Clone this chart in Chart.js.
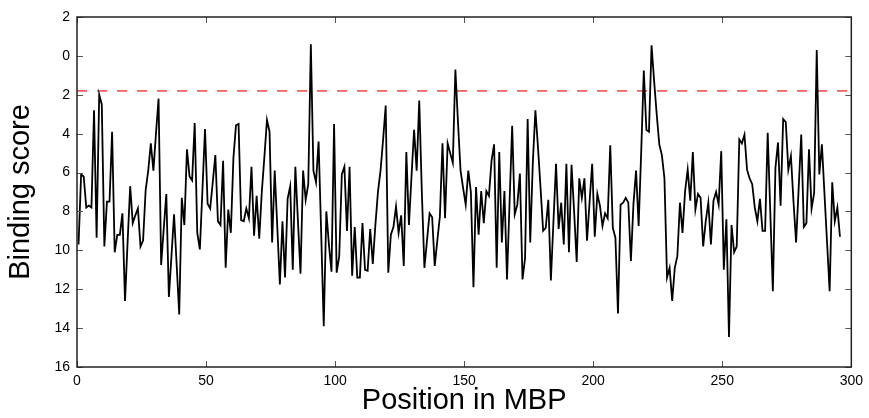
<!DOCTYPE html>
<html>
<head>
<meta charset="utf-8">
<script src="https://cdn.jsdelivr.net/npm/chart.js@4/dist/chart.umd.min.js"></script>
<style>
  html, body { margin: 0; padding: 0; background: #fff; }
  #wrap { width: 869px; height: 418px; }
</style>
</head>
<body>
<div id="wrap"><canvas id="myCanvas" width="869" height="418"></canvas></div>
<script>
// binding score per position (MBP)
const positions = [];
const scores = [
  9.7, 6.1, 6.2, 7.8, 7.7, 7.8, 2.8, 9.35, 2.0, 2.5,
  9.8, 7.5, 7.5, 3.9, 10.1, 9.2, 9.2, 8.1, 12.6, 9.6,
  6.7, 8.6, 8.2, 7.85, 9.8, 9.5, 6.9, 5.9, 4.5, 5.9,
  4.0, 2.2, 10.75, 8.9, 7.1, 12.4, 10.3, 8.15, 10.7, 13.3,
  7.3, 8.7, 4.8, 6.2, 6.4, 3.45, 9.1, 9.95, 6.9, 3.76,
  7.6, 7.85, 6.5, 5.1, 8.5, 8.7, 5.4, 10.9, 7.9, 9.1,
  5.25, 3.57, 3.5, 8.45, 8.5, 7.85, 8.35, 5.7, 9.25, 7.2,
  9.4, 7.0, 5.2, 3.3, 3.9, 9.6, 5.9, 8.8, 11.75, 8.5,
  11.4, 7.35, 6.7, 11.0, 5.7, 8.5, 11.2, 5.9, 7.4, 6.6,
  -0.6, 5.9, 6.5, 4.4, 9.1, 13.9, 8.0, 9.7, 11.1, 3.5,
  11.15, 10.3, 6.1, 5.7, 9.0, 5.7, 11.3, 8.8, 11.4, 11.4,
  8.6, 11.0, 11.05, 8.9, 10.7, 8.7, 7.0, 5.9, 4.3, 2.55,
  11.15, 9.2, 8.8, 7.75, 9.1, 8.2, 10.8, 4.95, 8.7, 6.2,
  3.8, 5.9, 2.3, 7.0, 10.9, 9.5, 8.1, 8.3, 10.8, 9.5,
  8.25, 4.5, 8.35, 4.5, 5.0, 5.5, 0.7, 3.4, 5.9, 6.8,
  7.65, 5.9, 7.0, 11.9, 6.75, 9.2, 6.95, 8.6, 6.95, 7.2,
  5.4, 4.55, 10.9, 4.95, 9.6, 6.95, 11.5, 7.5, 3.6, 8.15,
  7.65, 6.05, 11.5, 10.4, 3.25, 9.6, 5.5, 2.8, 4.7, 6.8,
  9.0, 8.85, 7.4, 11.55, 8.5, 5.55, 8.9, 7.55, 9.7, 5.55,
  10.1, 5.6, 8.0, 10.6, 6.3, 7.3, 6.3, 9.5, 7.5, 5.55,
  9.3, 7.1, 7.7, 8.75, 8.1, 8.35, 4.6, 8.85, 9.35, 13.25,
  7.65, 7.55, 7.3, 7.55, 10.55, 7.6, 5.9, 8.75, 4.9, 0.75,
  3.8, 3.9, -0.55, 1.3, 3.0, 4.55, 5.1, 6.3, 11.4, 10.9,
  12.6, 10.9, 10.3, 7.55, 9.1, 6.95, 5.85, 7.45, 4.95, 7.9,
  7.1, 7.3, 9.8, 8.5, 7.55, 9.7, 7.45, 7.0, 7.65, 4.9,
  11.0, 8.4, 14.45, 8.7, 10.1, 9.8, 4.3, 4.5, 4.05, 5.85,
  6.3, 6.6, 7.8, 8.5, 7.35, 9.0, 9.0, 3.95, 8.0, 12.1,
  5.75, 4.45, 7.7, 3.25, 3.4, 5.85, 5.15, 7.5, 9.6, 6.8,
  4.05, 8.8, 8.6, 4.8, 7.85, 7.05, -0.3, 6.1, 4.55, 7.1,
  9.6, 12.1, 6.5, 8.5, 7.8, 9.3
];
for (let i = 0; i < scores.length; i++) {
  positions.push(i + 0.6);
}

const threshold = 1.8;
const xTicks = [0, 50, 100, 150, 200, 250, 300];
const yTicks = [-2, 0, 2, 4, 6, 8, 10, 12, 14, 16];

const canvas = document.getElementById('myCanvas');
const ctx = canvas.getContext('2d');

// frame + inward ticks on all four sides
const frameTicks = {
  id: 'frameTicks',
  afterDraw(chart) {
    const a = chart.chartArea;
    const xs = chart.scales.x;
    const ys = chart.scales.y;
    const c = chart.ctx;
    c.save();
    c.strokeStyle = '#555';
    c.lineWidth = 1;
    c.beginPath();
    for (const t of xTicks) {
      const px = Math.round(xs.getPixelForValue(t)) + 0.5;
      c.moveTo(px, a.bottom); c.lineTo(px, a.bottom - 6);
      c.moveTo(px, a.top); c.lineTo(px, a.top + 6);
    }
    for (const t of yTicks) {
      const py = Math.round(ys.getPixelForValue(t)) + 0.5;
      c.moveTo(a.left, py); c.lineTo(a.left + 6, py);
      c.moveTo(a.right, py); c.lineTo(a.right - 6, py);
    }
    c.stroke();
    c.strokeStyle = '#222';
    c.lineWidth = 1.5;
    c.strokeRect(a.left, a.top, a.right - a.left, a.bottom - a.top);
    c.restore();
  }
};

const chart = new Chart(ctx, {
  type: 'line',
  data: {
    datasets: [{
      data: positions.map((p, i) => ({ x: p, y: scores[i] })),
      borderColor: '#000',
      borderWidth: 1.8,
      pointRadius: 0,
      tension: 0,
      order: 1
    }, {
      data: [{ x: 0, y: threshold }, { x: 300, y: threshold }],
      borderColor: '#f05050',
      borderWidth: 1.6,
      borderDash: [10, 10],
      pointRadius: 0,
      order: 2
    }]
  },
  options: {
    responsive: false,
    animation: false,
    layout: { padding: { top: 17, right: 13, left: 0, bottom: 0 } },
    plugins: {
      legend: { display: false },
      tooltip: { enabled: false }
    },
    scales: {
      x: {
        type: 'linear',
        min: 0,
        max: 300,
        afterBuildTicks: (s) => { s.ticks = xTicks.map(v => ({ value: v })); },
        grid: { display: false, drawTicks: false },
        border: { display: false },
        ticks: { padding: 6, color: '#000', font: { family: 'Liberation Sans', size: 14 } },
        title: {
          display: true,
          text: 'Position in MBP',
          color: '#000',
          padding: { top: 0, bottom: 0 },
          font: { family: 'Liberation Sans', size: 29 }
        },
        afterFit: (s) => { s.height = 51; }
      },
      y: {
        min: -2,
        max: 16,
        reverse: true,
        afterBuildTicks: (s) => { s.ticks = yTicks.map(v => ({ value: v })); },
        grid: { display: false, drawTicks: false },
        border: { display: false },
        ticks: {
          padding: 7,
          color: '#000',
          font: { family: 'Liberation Sans', size: 14 },
          callback: (v) => String(Math.abs(v))
        },
        title: {
          display: true,
          text: 'Binding score',
          color: '#000',
          padding: { top: 4, bottom: 2 },
          font: { family: 'Liberation Sans', size: 29 }
        },
        afterFit: (s) => { s.width = 77; }
      }
    }
  },
  plugins: [frameTicks]
});
</script>
</body>
</html>
